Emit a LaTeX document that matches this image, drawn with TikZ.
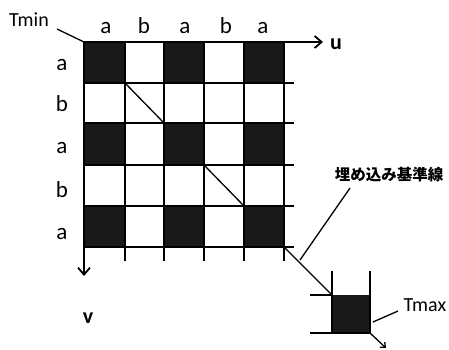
\documentclass[tikz,border=0pt]{standalone}
\usepackage{fontspec}
\setmainfont{Carlito}
\newfontfamily\jpfont{Noto Sans CJK JP}
\usetikzlibrary{arrows.meta}
\begin{document}
\begin{tikzpicture}[x=1pt,y=-1pt,
  ln/.style={line width=1.8pt, line cap=rect},
  thin/.style={line width=1.3pt},
  lbl/.style={font=\fontsize{23}{23}\selectfont, inner sep=0pt},
  small/.style={font=\fontsize{20}{20}\selectfont, inner sep=0pt},
  axlbl/.style={inner sep=0pt, font=\bfseries\fontsize{22}{22}\selectfont},
  axis/.style={line width=1.8pt, -{Straight Barb[length=7pt,width=12pt,line width=1.8pt]}}]
\useasboundingbox (0,0) rectangle (449,349);
% black cells
\foreach \x/\xx in {84/125,164/204,244/284}{
  \fill[black!90] (\x,42) rectangle (\xx,83);
  \fill[black!90] (\x,123) rectangle (\xx,165);
  \fill[black!90] (\x,206) rectangle (\xx,247);
}
% horizontal lines
\foreach \y in {83,123,165,206,247}{\draw[ln] (84,\y) -- (293,\y);}
% vertical lines
\foreach \x in {125,164,204,244,284}{\draw[ln] (\x,42) -- (\x,260);}
% axes
\coordinate (O) at (84,42);
\coordinate (uend) at (323,42);
\coordinate (vend) at (84,276);
\draw[axis] (O) -- (uend);
\draw[axis] (O) -- (vend);
\node[axlbl] (u) at (336,44) {u};
\node[axlbl] (v) at (88,318) {v};
% diagonals
\draw[thin] (125,83) -- (164,123);
\draw[thin] (204,165) -- (244,206);
% column labels
\foreach \x/\t [count=\i] in {106/a,144/b,185/a,226/b,263/a}{
  \node[lbl, anchor=base] (c\i) at (\x,33) {\t};
}
% row labels
\foreach \y/\t [count=\i] in {62/a,103/b,145/a,189/b,231/a}{
  \node[lbl, anchor=base] (r\i) at (62,\y+8) {\t};
}
% Tmin
\node[small] (tmin) at (29,20) {Tmin};
\coordinate (tminp) at (57,29);
\draw[thin] (tminp) -- (O);
% diagonal to small cell
\coordinate (G) at (284,247);
\coordinate (S) at (332,295);
\draw[thin] (G) -- (S);
\fill[black!90] (332,295) rectangle (370,333);
\draw[ln] (332,272) -- (332,333);
\draw[ln] (370,272) -- (370,333);
\draw[ln] (311,295) -- (332,295);
\draw[ln] (311,333) -- (370,333);
\coordinate (E) at (370,333);
\coordinate (Eend) at (386,348);
\draw[thin, -{Straight Barb[length=4pt,width=7pt,line width=1.3pt]}] (E) -- (Eend);
% Tmax
\node[small] (tmax) at (425,305) {Tmax};
\coordinate (tmaxa) at (398,311);
\coordinate (tmaxb) at (373,322);
\draw[thin] (tmaxa) -- (tmaxb);
% Japanese label
\node[inner sep=0pt, font=\jpfont\bfseries\fontsize{15.5}{15.5}\selectfont] (jp) at (389,175) {埋め込み基準線};
\coordinate (jpa) at (350,188);
\coordinate (jpb) at (300,260);
\draw[thin] (jpa) -- (jpb);
\end{tikzpicture}
\end{document}
